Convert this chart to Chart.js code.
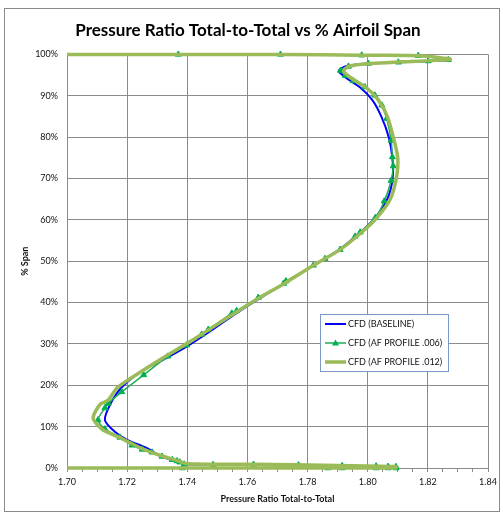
<!DOCTYPE html>
<html>
<head>
<meta charset="utf-8">
<title>Pressure Ratio vs Span</title>
<script src="https://cdn.jsdelivr.net/npm/chart.js@4.4.1/dist/chart.umd.min.js"></script>
<style>
  html, body { margin: 0; padding: 0; background: #fff; }
  #wrap { position: relative; width: 503px; height: 515px; }
</style>
</head>
<body>
<div id="wrap"><canvas id="prChart" width="503" height="515"></canvas></div>
<script>
// spanwise profiles, [pressure ratio, % span], hub wall -> tip wall
const baseline = [
  [1.70, 0], [1.8094, 0], [1.8094, 0.3], [1.79, 0.55], [1.762, 0.85], [1.74, 0.9],
  [1.737, 1.5], [1.7316, 2.7], [1.7266, 4.8], [1.72, 6.8], [1.716, 8.7], [1.7126, 11.6],
  [1.7146, 15.7], [1.7183, 19.6], [1.725, 23.5], [1.7316, 26], [1.7395, 29.2], [1.7475, 33],
  [1.7565, 37.5], [1.7645, 41.2], [1.7725, 44.8], [1.782, 49], [1.7905, 52.8], [1.7975, 57],
  [1.8025, 60.5], [1.8065, 65], [1.8083, 70], [1.8082, 75], [1.807, 80], [1.8045, 85],
  [1.8015, 89], [1.7975, 92], [1.7925, 94.5], [1.7903, 96], [1.793, 97.2], [1.800, 97.8],
  [1.81, 98.1], [1.827, 98.7], [1.817, 99.7], [1.798, 99.8], [1.771, 100], [1.70, 100]
];

const afProfile006 = [
  [1.70, 0], [1.7383, 0], [1.7868, 0], [1.7915, 0], [1.8028, 0], [1.8068, 0], [1.8094, 0],
  [1.8094, 0.3], [1.8068, 0.35], [1.8028, 0.45], [1.7915, 0.55], [1.777, 0.7], [1.762, 0.85],
  [1.7486, 0.8], [1.739, 0.9], [1.7375, 1.4], [1.7366, 1.7], [1.735, 2.0], [1.7316, 2.8],
  [1.7283, 3.8], [1.725, 4.5], [1.7216, 5.5], [1.7176, 7.4], [1.7126, 9.4], [1.7103, 11.6],
  [1.7126, 14.5], [1.7137, 15.6], [1.7182, 18.4], [1.7255, 22.5], [1.7335, 27.0],
  [1.7398, 29.7], [1.7448, 32.3], [1.747, 33.5], [1.7548, 37.4], [1.7564, 38.0],
  [1.7636, 41.2], [1.772, 44.6], [1.7728, 45.2], [1.7819, 49.0], [1.7858, 50.6],
  [1.7908, 52.8], [1.7958, 56.0], [1.7975, 57.0], [1.8025, 60.5], [1.8055, 64.5],
  [1.8078, 69.5], [1.8085, 73.0], [1.8082, 75.2], [1.8078, 79.2], [1.8063, 84.5],
  [1.8047, 87.7], [1.8024, 90.1], [1.7991, 92.1], [1.7952, 93.6], [1.7925, 94.9],
  [1.791, 96.1], [1.7936, 97.1], [1.8002, 97.8], [1.8102, 98.1], [1.8201, 98.4],
  [1.8268, 98.7], [1.8168, 99.7], [1.798, 99.8], [1.771, 100], [1.737, 100], [1.70, 100]
];

const afProfile012 = [
  [1.70, 0], [1.8094, 0], [1.8094, 0.35], [1.79, 0.6], [1.762, 0.9], [1.74, 1.0],
  [1.7366, 1.8], [1.7316, 2.9], [1.725, 4.7], [1.7166, 7.7], [1.712, 9.2], [1.7087, 12.0],
  [1.711, 15.4], [1.7135, 16.3], [1.717, 19.6], [1.7255, 23.7], [1.7335, 27.3], [1.743, 31.5],
  [1.7548, 37.0], [1.7636, 41.0], [1.772, 44.5], [1.782, 49], [1.7908, 52.8], [1.798, 57],
  [1.803, 60.5], [1.8075, 65], [1.8095, 70], [1.81, 75], [1.8085, 80], [1.8065, 85],
  [1.8035, 89], [1.7995, 92], [1.7945, 94.3], [1.792, 96], [1.794, 97.2], [1.801, 97.8],
  [1.811, 98.2], [1.8275, 98.8], [1.817, 99.7], [1.798, 99.8], [1.771, 100], [1.70, 100]
];

const seriesNames = ['CFD (BASELINE)', 'CFD (AF PROFILE .006)', 'CFD (AF PROFILE .012)'];
const xTicks = [1.70, 1.72, 1.74, 1.76, 1.78, 1.80, 1.82, 1.84];
const yTicks = [0, 10, 20, 30, 40, 50, 60, 70, 80, 90, 100];

const FONT = 'Lato, "Open Sans", sans-serif';
const GRID = '#8c8c8c';

const toXY = arr => arr.map(p => ({ x: p[0], y: p[1] }));
const isMajorX = v => xTicks.some(t => Math.abs(t - v) < 1e-6);

// page border and the boxed legend inside the plot
const frame = {
  id: 'frame',
  beforeDraw(chart) {
    const c = chart.ctx;
    c.save();
    c.fillStyle = '#fff';
    c.fillRect(0, 0, chart.width, chart.height);
    c.strokeStyle = '#8a8a8a';
    c.lineWidth = 1;
    c.strokeRect(4.5, 8.5, 495, 503);
    c.restore();
  },
  afterDraw(chart) {
    const c = chart.ctx;
    const ds = chart.data.datasets;
    const bx = 320.5, by = 314.5, bw = 128, bh = 57;
    c.save();
    c.fillStyle = '#fff';
    c.fillRect(bx, by, bw, bh);
    c.strokeStyle = '#7b98cc';
    c.lineWidth = 1;
    c.strokeRect(bx, by, bw, bh);
    c.font = '9px ' + FONT;
    c.fillStyle = '#111';
    c.textBaseline = 'middle';
    const rows = [324, 343, 362];
    ds.forEach((d, i) => {
      const y = rows[i];
      c.strokeStyle = d.borderColor;
      c.lineWidth = d.borderWidth;
      c.beginPath();
      c.moveTo(325, y);
      c.lineTo(346, y);
      c.stroke();
      if (d.pointStyle === 'triangle') {
        c.fillStyle = d.pointBackgroundColor;
        c.beginPath();
        c.moveTo(335.5, y - 3.5);
        c.lineTo(339, y + 2.5);
        c.lineTo(332, y + 2.5);
        c.closePath();
        c.fill();
      }
      c.fillStyle = '#111';
      c.fillText(seriesNames[i], 348, y + 0.5);
    });
    c.restore();
  }
};

new Chart(document.getElementById('prChart'), {
  type: 'scatter',
  data: {
    datasets: [
      {
        label: seriesNames[0],
        data: toXY(baseline),
        showLine: true,
        borderColor: '#0000ff',
        backgroundColor: '#0000ff',
        borderWidth: 2,
        pointRadius: 0,
        tension: 0.25,
        order: 3,
        clip: { left: 1, top: 3, right: 3, bottom: 3 }
      },
      {
        label: seriesNames[1],
        data: toXY(afProfile006),
        showLine: true,
        borderColor: '#1fae55',
        backgroundColor: '#00b050',
        pointBackgroundColor: '#00b050',
        pointBorderColor: '#00b050',
        borderWidth: 1.5,
        pointStyle: 'triangle',
        pointRadius: ctx => (ctx.raw && ctx.raw.x <= 1.70) ? 0 : 3.5,
        pointBorderWidth: 1,
        tension: 0.25,
        order: 2,
        clip: { left: 1, top: 5, right: 5, bottom: 5 }
      },
      {
        label: seriesNames[2],
        data: toXY(afProfile012),
        showLine: true,
        borderColor: '#9bbb59',
        backgroundColor: '#9bbb59',
        borderWidth: 3.5,
        pointRadius: 0,
        tension: 0.25,
        order: 1,
        clip: { left: 1, top: 3, right: 3, bottom: 3 }
      }
    ]
  },
  options: {
    responsive: false,
    animation: false,
    layout: { padding: { left: 8, right: 15, top: 20, bottom: 4 } },
    plugins: {
      legend: { display: false },
      tooltip: { enabled: false },
      title: {
        display: true,
        text: 'Pressure Ratio Total-to-Total vs % Airfoil Span',
        color: '#000',
        font: { family: FONT, size: 17, weight: 'bold' },
        padding: { top: 0, bottom: 14 }
      }
    },
    scales: {
      x: {
        type: 'linear',
        min: 1.70,
        max: 1.84,
        afterFit: s => { s.height = 43; },
        ticks: {
          stepSize: 0.005,
          autoSkip: false,
          maxRotation: 0,
          padding: 5,
          color: '#111',
          font: { family: FONT, size: 9 },
          callback: v => isMajorX(v) ? v.toFixed(2) : ''
        },
        grid: {
          color: ctx => (ctx.tick && isMajorX(ctx.tick.value)) ? GRID : 'rgba(0,0,0,0)',
          tickColor: GRID,
          tickLength: 4,
          lineWidth: 1
        },
        border: { color: GRID },
        title: {
          display: true,
          text: 'Pressure Ratio Total-to-Total',
          color: '#111',
          font: { family: FONT, size: 9, weight: 'bold' },
          padding: { top: 0, bottom: 7 }
        }
      },
      y: {
        type: 'linear',
        min: 0,
        max: 100,
        afterFit: s => { s.width = 59; },
        ticks: {
          stepSize: 10,
          padding: 9,
          color: '#111',
          font: { family: FONT, size: 9 },
          callback: v => v + '%'
        },
        grid: { color: GRID, drawTicks: false, lineWidth: 1 },
        border: { color: GRID },
        title: {
          display: true,
          text: '% Span',
          color: '#111',
          font: { family: FONT, size: 9, weight: 'bold' },
          padding: { top: 12, bottom: 0 }
        }
      }
    }
  },
  plugins: [frame]
});
</script>
</body>
</html>
